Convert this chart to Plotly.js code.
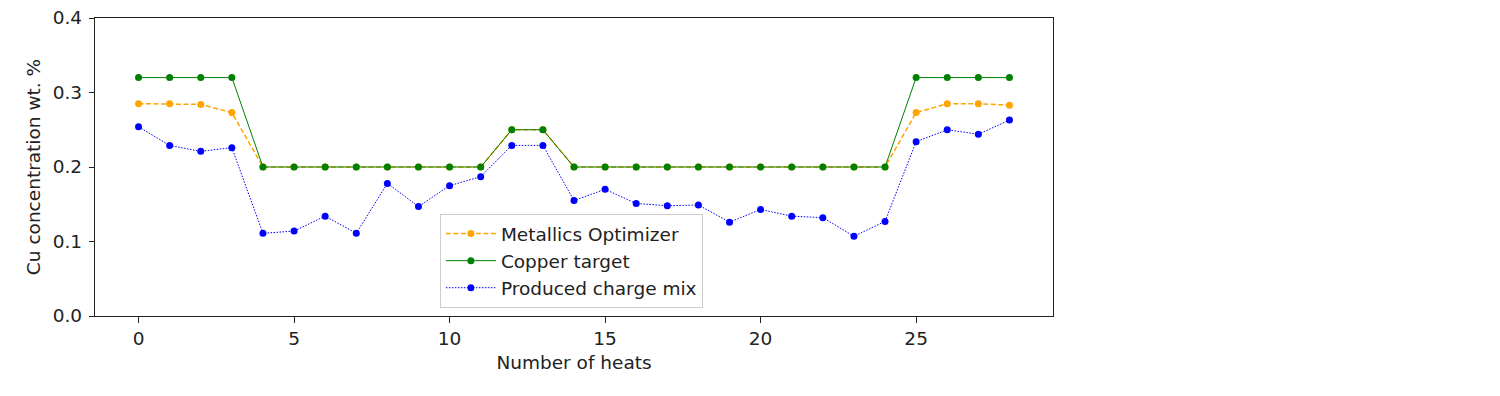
<!DOCTYPE html>
<html>
<head>
<meta charset="utf-8">
<script src="https://cdn.plot.ly/plotly-3.0.1.min.js"></script>
<style>html,body{margin:0;padding:0;background:#fff;}#chart{width:1500px;height:396px;}</style>
</head>
<body>
<div id="chart"></div>
<script>
var heats = [0,1,2,3,4,5,6,7,8,9,10,11,12,13,14,15,16,17,18,19,20,21,22,23,24,25,26,27,28];
var optimizer = [0.285,0.285,0.284,0.273,0.2,0.2,0.2,0.2,0.2,0.2,0.2,0.2,0.25,0.25,0.2,0.2,0.2,0.2,0.2,0.2,0.2,0.2,0.2,0.2,0.2,0.273,0.285,0.285,0.283];
var target = [0.32,0.32,0.32,0.32,0.2,0.2,0.2,0.2,0.2,0.2,0.2,0.2,0.25,0.25,0.2,0.2,0.2,0.2,0.2,0.2,0.2,0.2,0.2,0.2,0.2,0.32,0.32,0.32,0.32];
var produced = [0.254,0.229,0.221,0.226,0.111,0.114,0.134,0.111,0.178,0.147,0.175,0.187,0.229,0.229,0.155,0.170,0.151,0.148,0.149,0.126,0.143,0.134,0.132,0.107,0.127,0.234,0.250,0.244,0.263];
var names = ["Metallics Optimizer","Copper target","Produced charge mix"];
var xTicks = [0,5,10,15,20,25];
var yTicks = [0.0,0.1,0.2,0.3,0.4];

var font = {family:"DejaVu Sans, sans-serif", size:18.5, color:"#222"};
var traces = [
  {x:heats, y:optimizer, name:names[0], mode:"lines+markers",
   line:{color:"#FFA500", width:1.5, dash:"5px,2.5px"}, marker:{color:"#FFA500", size:7}},
  {x:heats, y:target, name:names[1], mode:"lines+markers",
   line:{color:"#008000", width:1}, marker:{color:"#008000", size:7}},
  {x:heats, y:produced, name:names[2], mode:"lines+markers",
   line:{color:"#0000FF", width:1, dash:"1.5px,1.5px"}, marker:{color:"#0000FF", size:7}}
];
var layout = {
  width:1500, height:396,
  margin:{l:95, r:447, t:18, b:80, pad:0},
  paper_bgcolor:"#fff", plot_bgcolor:"#fff",
  font:font,
  showlegend:true,
  legend:{x:0.36, y:0.342, xanchor:"left", yanchor:"top", bgcolor:"rgba(255,255,255,0.8)",
    bordercolor:"#cccccc", borderwidth:1, font:font, traceorder:"normal", itemwidth:50},
  xaxis:{range:[-1.4,29.4], tickvals:xTicks, ticktext:xTicks.map(String), showgrid:false, zeroline:false,
    showline:true, linecolor:"#222", linewidth:1.2, mirror:true, ticks:"outside", ticklen:6, tickcolor:"#222",
    tickfont:font, title:{text:"Number of heats", font:font, standoff:7}},
  yaxis:{range:[0,0.4], tickvals:yTicks, ticktext:yTicks.map(function(v){return v.toFixed(1);}), showgrid:false, zeroline:false,
    showline:true, linecolor:"#222", linewidth:1.2, mirror:true, ticks:"outside", ticklen:5, tickcolor:"#222",
    ticklabelstandoff:3,
    tickfont:font, title:{text:"Cu concentration wt. %", font:font, standoff:7}}
};
Plotly.newPlot("chart", traces, layout, {displayModeBar:false, staticPlot:true});
</script>
</body>
</html>
